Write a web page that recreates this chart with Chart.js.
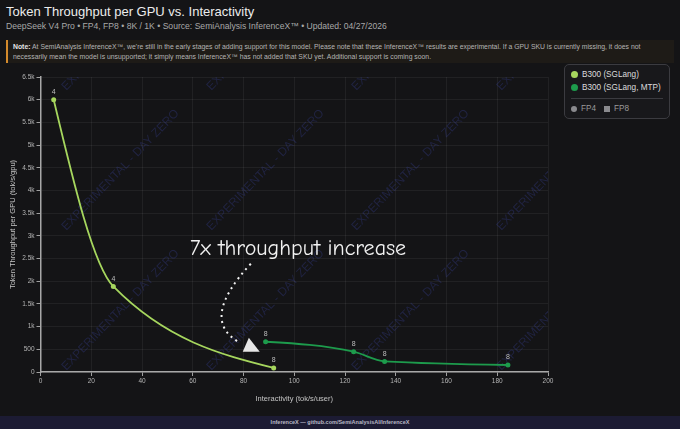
<!DOCTYPE html>
<html lang="en">
<head>
    <meta charset="UTF-8">
    <title>Token Throughput per GPU vs. Interactivity</title>
    <script src="https://cdn.jsdelivr.net/npm/chart.js"></script>
    <style>
        html, body {
            margin: 0;
            padding: 0;
            width: 680px;
            height: 429px;
            overflow: hidden;
            background: #141416;
            font-family: "Liberation Sans", Arial, sans-serif;
        }
        .title {
            position: absolute;
            left: 6px;
            top: 4px;
            font-size: 13px;
            color: #ececec;
        }
        .subtitle {
            position: absolute;
            left: 6px;
            top: 21px;
            font-size: 8.6px;
            color: #a8a8a8;
        }
        .note {
            position: absolute;
            left: 6px;
            top: 40px;
            width: 668px;
            height: 23px;
            box-sizing: border-box;
            border-left: 2px solid #d38a2c;
            background: #1e1b17;
            padding: 2px 0 0 5px;
            font-size: 6.85px;
            line-height: 10px;
            color: #b4b4b4;
            white-space: nowrap;
        }
        .note b { color: #e6e6e6; }
        .wrap {
            position: absolute;
            left: 0;
            top: 66px;
            width: 560px;
            height: 350px;
        }
        .legend {
            position: absolute;
            left: 564px;
            top: 64px;
            width: 106px;
            height: 55px;
            box-sizing: border-box;
            border: 1px solid #3b3b40;
            border-radius: 5px;
            background: #18181b;
            font-size: 8.2px;
            color: #dcdcdc;
        }
        .legend .row {
            position: absolute;
            left: 6px;
            height: 10px;
            line-height: 10px;
            white-space: nowrap;
        }
        .legend .dot {
            display: inline-block;
            width: 7px;
            height: 7px;
            border-radius: 50%;
            margin-right: 4px;
            vertical-align: -1px;
        }
        .legend .sep {
            position: absolute;
            left: 6px;
            right: 6px;
            top: 33px;
            border-top: 1px solid #3b3b40;
        }
        .legend .prec { color: #9a9a9a; }
        .legend .sq {
            display: inline-block;
            width: 6px;
            height: 6px;
            margin: 0 4px 0 8px;
            background: #8a8a8e;
            vertical-align: -0.5px;
        }
        .footer {
            position: absolute;
            left: 0;
            top: 416px;
            width: 680px;
            height: 13px;
            background: #1c1b33;
            text-align: center;
            font-size: 5.5px;
            line-height: 13px;
            font-weight: bold;
            color: #b8b8c4;
        }
    </style>
</head>
<body>
    <div class="title">Token Throughput per GPU vs. Interactivity</div>
    <div class="subtitle">DeepSeek V4 Pro • FP4, FP8 • 8K / 1K • Source: SemiAnalysis InferenceX™ • Updated: 04/27/2026</div>
    <div class="note"><b>Note:</b> At SemiAnalysis InferenceX™, we're still in the early stages of adding support for this model. Please note that these InferenceX™ results are experimental. If a GPU SKU is currently missing, it does not<br>necessarily mean the model is unsupported; it simply means InferenceX™ has not added that SKU yet. Additional support is coming soon.</div>
    <div class="wrap"><canvas id="tputChart"></canvas></div>
    <div class="legend" id="legend"></div>
    <div class="footer">InferenceX — github.com/SemiAnalysisAI/InferenceX</div>
    <script>
        // values
        const seriesNames = ['B300 (SGLang)', 'B300 (SGLang, MTP)'];
        const seriesColors = ['#a6d65e', '#1d9b4c'];
        const precisions = ['FP4', 'FP8'];

        const sglangX = [5.2, 28.7, 91.9];
        const sglangY = [6000, 1885, 90];
        const sglangTP = [4, 4, 8];

        const mtpX = [88.7, 123.4, 135.6, 184.2];
        const mtpY = [667, 447, 233, 154];
        const mtpTP = [8, 8, 8, 8];

        const xTicks = [0, 20, 40, 60, 80, 100, 120, 140, 160, 180, 200];
        const yTicks = [0, 500, 1000, 1500, 2000, 2500, 3000, 3500, 4000, 4500, 5000, 5500, 6000, 6500];

        const annotationText = '7x throughput increase';
        const watermarkText = 'EXPERIMENTAL - DAY ZERO';

        function toPoints(xs, ys) {
            return xs.map((x, i) => ({ x: x, y: ys[i] }));
        }

        function fmtK(v) {
            if (v >= 1000) return (v / 1000) + 'k';
            return String(v);
        }

        // legend (html, to the right of the plot)
        const legend = document.getElementById('legend');
        seriesNames.forEach((name, i) => {
            const row = document.createElement('div');
            row.className = 'row';
            row.style.top = (5 + i * 13) + 'px';
            row.innerHTML = '<span class="dot" style="background:' + seriesColors[i] + '"></span>' + name;
            legend.appendChild(row);
        });
        const sep = document.createElement('div');
        sep.className = 'sep';
        legend.appendChild(sep);
        const precRow = document.createElement('div');
        precRow.className = 'row prec';
        precRow.style.top = '39px';
        precRow.innerHTML = '<span class="dot" style="background:#8a8a8e;width:6px;height:6px"></span>' + precisions[0] +
            '<span class="sq"></span>' + precisions[1];
        legend.appendChild(precRow);

        // monotone-x curve the way d3 does it (Steffen slopes), written into the
        // control points chart.js already computed for the line
        function sign(v) { return v < 0 ? -1 : 1; }
        function monotoneX(points) {
            const n = points.length;
            if (n < 3) return;
            const t = new Array(n);
            for (let i = 1; i < n - 1; i++) {
                const p0 = points[i - 1], p1 = points[i], p2 = points[i + 1];
                const h0 = p1.x - p0.x, h1 = p2.x - p1.x;
                const s0 = (p1.y - p0.y) / h0, s1 = (p2.y - p1.y) / h1;
                const p = (s0 * h1 + s1 * h0) / (h0 + h1);
                t[i] = (sign(s0) + sign(s1)) * Math.min(Math.abs(s0), Math.abs(s1), 0.5 * Math.abs(p)) || 0;
            }
            const hs = points[1].x - points[0].x;
            t[0] = (3 * (points[1].y - points[0].y) / hs - t[1]) / 2;
            const he = points[n - 1].x - points[n - 2].x;
            t[n - 1] = (3 * (points[n - 1].y - points[n - 2].y) / he - t[n - 2]) / 2;
            for (let i = 0; i < n - 1; i++) {
                const a = points[i], b = points[i + 1];
                const dx = (b.x - a.x) / 3;
                a.cp2x = a.x + dx; a.cp2y = a.y + dx * t[i];
                b.cp1x = b.x - dx; b.cp1y = b.y - dx * t[i + 1];
            }
        }

        const d3Curve = {
            id: 'd3Curve',
            beforeDatasetDraw(chart, args) {
                const line = args.meta.dataset;
                if (!line) return;
                line.updateControlPoints(chart.chartArea, 'x');
                monotoneX(line.points);
                line._path = undefined;
            }
        };

        const watermark = {
            id: 'watermark',
            beforeDatasetsDraw(chart) {
                const { ctx, chartArea } = chart;
                ctx.save();
                ctx.beginPath();
                ctx.rect(chartArea.left, chartArea.top, chartArea.right - chartArea.left, chartArea.bottom - chartArea.top);
                ctx.clip();
                ctx.font = '12px "Liberation Sans", Arial, sans-serif';
                ctx.fillStyle = 'rgba(70, 85, 200, 0.24)';
                ctx.textAlign = 'center';
                ctx.textBaseline = 'middle';
                for (let c = 0; c < 4; c++) {
                    for (let r = 0; r < 3; r++) {
                        ctx.save();
                        ctx.translate(chartArea.left + 80 + c * 145, chartArea.top - 47 + r * 140);
                        ctx.rotate(-46 * Math.PI / 180);
                        ctx.fillText(watermarkText, 0, 0);
                        ctx.restore();
                    }
                }
                ctx.restore();
            }
        };

        const pointLabels = {
            id: 'pointLabels',
            afterDatasetsDraw(chart) {
                const { ctx } = chart;
                const labels = [sglangTP, mtpTP];
                ctx.save();
                ctx.font = '7px "Liberation Sans", Arial, sans-serif';
                ctx.fillStyle = '#bdbdbd';
                ctx.textAlign = 'center';
                ctx.textBaseline = 'bottom';
                chart.data.datasets.forEach((ds, di) => {
                    chart.getDatasetMeta(di).data.forEach((pt, i) => {
                        ctx.fillText(String(labels[di][i]), pt.x, pt.y - 4);
                    });
                });
                ctx.restore();
            }
        };

        const callout = {
            id: 'callout',
            afterDraw(chart) {
                const { ctx } = chart;
                const sx = chart.scales.x, sy = chart.scales.y;
                const px = v => sx.getPixelForValue(v);
                const py = v => sy.getPixelForValue(v);
                ctx.save();
                ctx.font = '22px "Comic Sans MS", "Comic Neue", cursive';
                ctx.fillStyle = '#f2f2f2';
                ctx.textAlign = 'center';
                ctx.textBaseline = 'middle';
                ctx.fillText(annotationText, px(101.5), py(2720));

                ctx.strokeStyle = '#f2f2f2';
                ctx.lineWidth = 2;
                ctx.setLineDash([2, 4]);
                ctx.beginPath();
                ctx.moveTo(px(82.9), py(2385));
                ctx.quadraticCurveTo(px(62.2), py(1141), px(78.6), py(645));
                ctx.stroke();
                ctx.setLineDash([]);

                ctx.fillStyle = '#e6e6e6';
                ctx.beginPath();
                ctx.moveTo(px(82.1), py(756));
                ctx.lineTo(px(86.4), py(447));
                ctx.lineTo(px(79.7), py(447));
                ctx.closePath();
                ctx.fill();
                ctx.restore();
            }
        };

        const ctx = document.getElementById('tputChart').getContext('2d');
        const tputChart = new Chart(ctx, {
            type: 'line',
            data: {
                datasets: [
                    {
                        label: seriesNames[0],
                        data: toPoints(sglangX, sglangY),
                        borderColor: seriesColors[0],
                        backgroundColor: seriesColors[0],
                        borderWidth: 1.8,
                        pointRadius: 2.5,
                        pointBorderWidth: 0,
                        cubicInterpolationMode: 'monotone',
                        fill: false
                    },
                    {
                        label: seriesNames[1],
                        data: toPoints(mtpX, mtpY),
                        borderColor: seriesColors[1],
                        backgroundColor: seriesColors[1],
                        borderWidth: 1.8,
                        pointRadius: 2.5,
                        pointBorderWidth: 0,
                        cubicInterpolationMode: 'monotone',
                        fill: false
                    }
                ]
            },
            options: {
                responsive: true,
                maintainAspectRatio: false,
                animation: false,
                layout: {
                    padding: { top: 11, right: 12, left: 0, bottom: 0 }
                },
                plugins: {
                    legend: { display: false },
                    tooltip: { enabled: false }
                },
                scales: {
                    x: {
                        type: 'linear',
                        min: xTicks[0],
                        max: xTicks[xTicks.length - 1],
                        afterBuildTicks: s => { s.ticks = xTicks.map(v => ({ value: v })); },
                        afterFit: s => { s.height = 44; },
                        ticks: {
                            color: '#b4b4b4',
                            font: { size: 6.5, family: '"Liberation Sans", Arial, sans-serif' },
                            padding: 1,
                            maxRotation: 0
                        },
                        grid: {
                            color: 'rgba(255, 255, 255, 0.06)',
                            tickColor: '#a0a0a0',
                            tickLength: 4
                        },
                        border: { color: '#a8a8a8', width: 1.5 },
                        title: {
                            display: true,
                            text: 'Interactivity (tok/s/user)',
                            color: '#c4c4c4',
                            font: { size: 7.5, family: '"Liberation Sans", Arial, sans-serif' },
                            padding: { top: 0, bottom: 13 }
                        }
                    },
                    y: {
                        type: 'linear',
                        min: yTicks[0],
                        max: yTicks[yTicks.length - 1],
                        afterBuildTicks: s => { s.ticks = yTicks.map(v => ({ value: v })); },
                        afterFit: s => { s.width = 40.5; },
                        ticks: {
                            color: '#b4b4b4',
                            font: { size: 6.5, family: '"Liberation Sans", Arial, sans-serif' },
                            padding: 2,
                            callback: v => fmtK(v)
                        },
                        grid: {
                            color: 'rgba(255, 255, 255, 0.06)',
                            tickColor: '#a0a0a0',
                            tickLength: 4
                        },
                        border: { color: '#a8a8a8', width: 1.5 },
                        title: {
                            display: true,
                            text: 'Token Throughput per GPU (tok/s/gpu)',
                            color: '#c4c4c4',
                            font: { size: 7.5, family: '"Liberation Sans", Arial, sans-serif' },
                            padding: { top: 8, bottom: 0 }
                        }
                    }
                }
            },
            plugins: [d3Curve, watermark, pointLabels, callout]
        });
    </script>
</body>
</html>
